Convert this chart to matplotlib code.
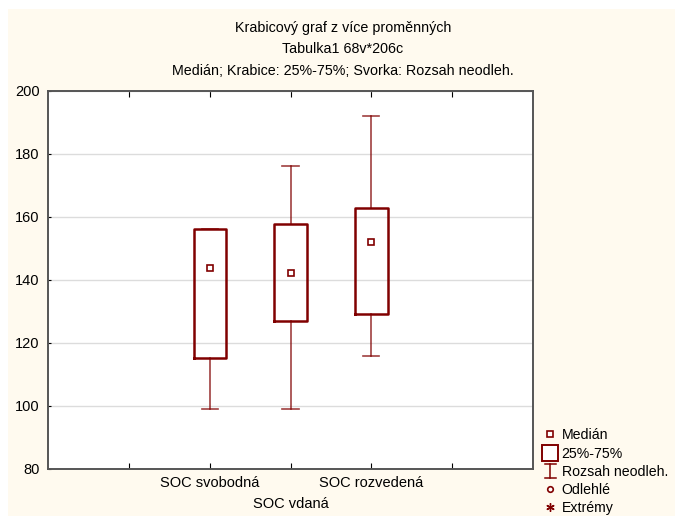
import matplotlib
matplotlib.use('Agg')
import matplotlib.pyplot as plt
from matplotlib.lines import Line2D
from matplotlib.patches import Rectangle
from matplotlib.legend_handler import HandlerBase

plt.rcParams['font.family'] = ['Liberation Sans', 'DejaVu Sans']

categories = ['SOC svobodná', 'SOC vdaná', 'SOC rozvedená']
positions = [2, 3, 4]
medians = [143.7, 142.2, 152.1]
q1 = [115.2, 127.0, 129.2]
q3 = [156.0, 157.8, 162.9]
whis_lo = [99.0, 99.0, 115.9]
whis_hi = [156.2, 176.1, 192.1]

red = '#800000'
cream = '#fffaef'


class RangeHandler(HandlerBase):
    # I-shaped whisker symbol for the legend
    def create_artists(self, legend, orig, xd, yd, width, height, fontsize, trans):
        cx = xd + width / 2
        lo, hi = yd - height * 0.25, yd + height * 1.15
        kw = dict(color=red, linewidth=1.1, transform=trans)
        return [Line2D([cx, cx], [lo, hi], **kw),
                Line2D([cx - 4, cx + 4], [lo, lo], **kw),
                Line2D([cx - 4, cx + 4], [hi, hi], **kw)]


class RangeKey:
    pass


fig = plt.figure(figsize=(6.75, 5.16), dpi=100)
fig.patch.set_facecolor('white')
fig.patches.append(Rectangle((8 / 675, 0), 1, 1 - 9 / 516, transform=fig.transFigure,
                             facecolor=cream, edgecolor='none', zorder=-10))

ax = fig.add_axes([48 / 675, 1 - 469 / 516, 485 / 675, 378.3 / 516])
ax.set_facecolor('white')

stats = [dict(med=m, q1=a, q3=b, whislo=lo, whishi=hi, fliers=[])
         for m, a, b, lo, hi in zip(medians, q1, q3, whis_lo, whis_hi)]
ax.bxp(stats, positions=positions, widths=0.4, showfliers=False,
       boxprops=dict(color=red, linewidth=1.8),
       whiskerprops=dict(color=red, linewidth=1.2, alpha=0.75),
       capprops=dict(color=red, linewidth=1.2, alpha=0.75),
       medianprops=dict(linestyle='none'), capwidths=0.2, zorder=3)
ax.plot(positions, medians, linestyle='none', marker='s', markersize=5,
        markerfacecolor='white', markeredgecolor=red, markeredgewidth=1.2, zorder=4)

ax.set_xlim(0, 6)
ax.set_ylim(80, 200)
ax.set_yticks(range(80, 201, 20))
ax.yaxis.grid(True, color='#dcdcdc', linewidth=1)
ax.set_axisbelow(True)
ax.set_xticks([1, 2, 3, 4, 5])
ax.set_xticklabels(['', categories[0], '\n' + categories[1], categories[2], ''])
ax.get_xticklabels()[2].set_linespacing(1.6)
ax.tick_params(axis='x', direction='in', top=True, length=4, labelsize=10.5, pad=5)
ax.tick_params(axis='y', direction='in', right=False, length=2, labelsize=10.5, pad=6)
for s in ax.spines.values():
    s.set_color('#555555')
    s.set_linewidth(1.4)

fig.text(0.508, 1 - 28 / 516, 'Krabicový graf z více proměnných', ha='center', va='center', fontsize=10.3)
fig.text(0.508, 1 - 49 / 516, 'Tabulka1 68v*206c', ha='center', va='center', fontsize=10.3)
fig.text(0.508, 1 - 71 / 516, 'Medián; Krabice: 25%-75%; Svorka: Rozsah neodleh.',
         ha='center', va='center', fontsize=10.3)

handles = [
    Line2D([], [], linestyle='none', marker='s', markersize=5, markerfacecolor='white',
           markeredgecolor=red, markeredgewidth=1.2),
    Line2D([], [], linestyle='none', marker='s', markersize=11, markerfacecolor='white',
           markeredgecolor=red, markeredgewidth=1.4),
    RangeKey(),
    Line2D([], [], linestyle='none', marker='o', markersize=4, markerfacecolor='white',
           markeredgecolor=red, markeredgewidth=1.2),
    Line2D([], [], linestyle='none', marker=(6, 2, 0), markersize=6, color=red,
           markeredgewidth=1.0),
]
labels = ['Medián', '25%-75%', 'Rozsah neodleh.', 'Odlehlé', 'Extrémy']
fig.legend(handles, labels, loc='lower left', bbox_to_anchor=(0.79, -0.018), frameon=False,
           fontsize=10.2, handlelength=1.0, handletextpad=0.3, labelspacing=0.3,
           borderaxespad=0.3, handler_map={RangeKey: RangeHandler()})

fig.savefig('out.png', dpi=100, facecolor=fig.get_facecolor())
